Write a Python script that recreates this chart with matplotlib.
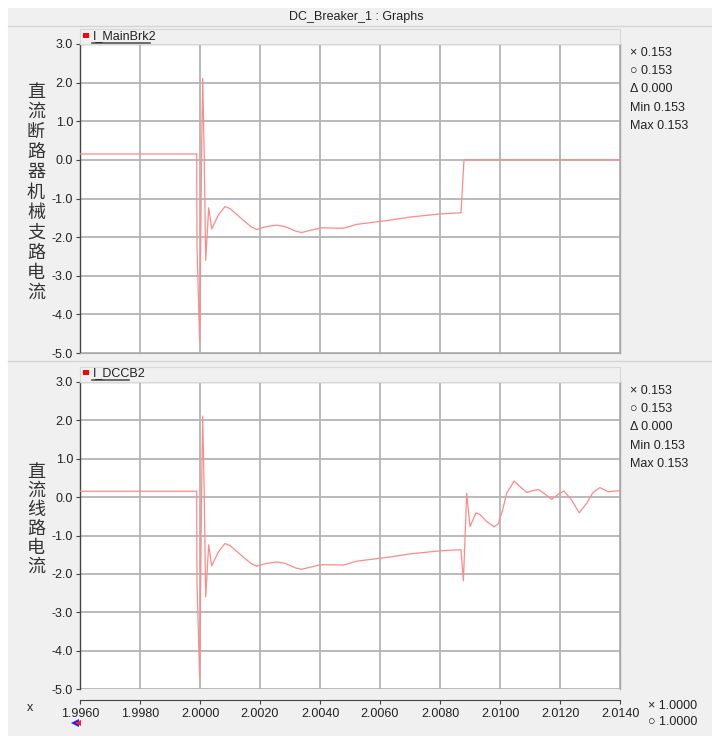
import matplotlib
matplotlib.use("Agg")
import matplotlib.pyplot as plt
from matplotlib.lines import Line2D
from matplotlib.patches import Rectangle
from matplotlib import font_manager

# ---------------- data ----------------
t_common = [1.99600, 1.99989, 1.99990, 1.99999, 2.00006, 2.00009, 2.00014, 2.00019,
            2.00029, 2.00039, 2.00061, 2.00083, 2.00100, 2.00125, 2.00150, 2.00170,
            2.00189, 2.00220, 2.00256, 2.00280, 2.00300, 2.00320, 2.00339, 2.00370,
            2.00406, 2.00478, 2.00522, 2.00633, 2.00700, 2.00800, 2.00870]
i_common = [0.153, 0.153, -2.25, -4.72, 0.60, 2.11, 0.08, -2.60,
            -1.24, -1.79, -1.43, -1.21, -1.26, -1.43, -1.60, -1.73,
            -1.80, -1.73, -1.69, -1.72, -1.78, -1.85, -1.88, -1.82,
            -1.76, -1.77, -1.67, -1.56, -1.48, -1.40, -1.37]

t_main_tail = [2.00880, 2.01400]
i_main_tail = [0.0, 0.0]

t_dccb_tail = [2.00878, 2.00889, 2.00900, 2.00920, 2.00933, 2.00956, 2.00980, 2.00994,
               2.01010, 2.01022, 2.01047, 2.01067, 2.01089, 2.01110, 2.01128, 2.01150,
               2.01172, 2.01195, 2.01213, 2.01239, 2.01264, 2.01289, 2.01310, 2.01333,
               2.01361, 2.01400]
i_dccb_tail = [-2.18, 0.10, -0.77, -0.41, -0.45, -0.64, -0.77, -0.70,
               -0.30, 0.10, 0.42, 0.27, 0.12, 0.17, 0.20, 0.08,
               -0.06, 0.08, 0.16, -0.08, -0.41, -0.16, 0.12, 0.25,
               0.14, 0.17]

x_ticks = [1.996, 1.998, 2.000, 2.002, 2.004, 2.006, 2.008, 2.010, 2.012, 2.014]
y_ticks = [3.0, 2.0, 1.0, 0.0, -1.0, -2.0, -3.0, -4.0, -5.0]

title = "DC_Breaker_1 : Graphs"
series_names = ["I_MainBrk2", "I_DCCB2"]
ylabels = ["直流断路器机械支路电流", "直流线路电流"]
readout = ["× 0.153", "○ 0.153", "Δ 0.000", "Min 0.153", "Max 0.153"]
x_readout = ["× 1.0000", "○ 1.0000"]

# ---------------- style ----------------
avail = {f.name for f in font_manager.fontManager.ttflist}
base = "Liberation Sans Narrow" if "Liberation Sans Narrow" in avail else "Liberation Sans"
FAM = [base, "DejaVu Sans"]
plt.rcParams["font.family"] = FAM

W, H = 712, 736
BG = "#F0F0F0"
GRID = "#B4B4B4"
LINE = "#FF8A8A"
TXT = "#222222"

fig = plt.figure(figsize=(W / 100, H / 100), dpi=100, facecolor="white")

def fx(px):
    return px / W

def fy(py):
    return 1 - py / H

# panel background
fig.add_artist(Rectangle((fx(8), 0), fx(712) - fx(8), fy(8), transform=fig.transFigure,
                         facecolor=BG, edgecolor="none", zorder=0))
# title band
fig.text(fx(356), fy(17), title, ha="center", va="center", fontsize=9, color=TXT)
fig.add_artist(Line2D([fx(8), fx(712)], [fy(26), fy(26)], transform=fig.transFigure,
                      color="#D4D4D4", lw=1))
# separator between panels
fig.add_artist(Line2D([fx(8), fx(712)], [fy(361), fy(361)], transform=fig.transFigure,
                      color="#D4D4D4", lw=1))

panels = [
    dict(top=44, bottom=353, leg_y=36, lab_y0=92, lab_pitch=20.1,
         t=t_common + t_main_tail, i=i_common + i_main_tail),
    dict(top=382, bottom=689, leg_y=373, lab_y0=471.7, lab_pitch=19.0,
         t=t_common + t_dccb_tail, i=i_common + i_dccb_tail),
]

axes = []
for k, p in enumerate(panels):
    ax = fig.add_axes([fx(80), fy(p["bottom"]), (620 - 80) / W, (p["bottom"] - p["top"]) / H])
    ax.set_facecolor("white")
    ax.plot(p["t"], p["i"], color=LINE, lw=0.9, zorder=3)
    ax.set_xlim(1.996, 2.014)
    ax.set_ylim(-5.0, 3.0)
    ax.set_xticks(x_ticks)
    ax.set_yticks(y_ticks)
    ax.set_yticklabels([f"{v:.1f}" for v in y_ticks])
    ax.grid(True, color=GRID, lw=1.3, zorder=1)
    ax.set_axisbelow(True)
    ax.tick_params(axis="y", direction="out", length=3, width=0.8, color="#444444",
                   labelsize=9, labelcolor=TXT, pad=2)
    for s in ["top", "right"]:
        ax.spines[s].set_color("#A8A8A8")
        ax.spines[s].set_linewidth(1.0)
    ax.spines["left"].set_color("#444444")
    ax.spines["left"].set_linewidth(1.0)
    if k == 0:
        ax.spines["bottom"].set_color("#A8A8A8")
        ax.tick_params(axis="x", length=0, labelbottom=False)
    else:
        ax.spines["bottom"].set_position(("outward", 8))
        ax.spines["bottom"].set_color("#444444")
        ax.tick_params(axis="x", direction="out", length=3, width=0.8, color="#444444",
                       labelsize=9, labelcolor=TXT, pad=3)
        ax.set_xticklabels([f"{v:.4f}" for v in x_ticks])
    axes.append(ax)

    # legend row
    fig.add_artist(Rectangle((fx(80), fy(p["top"])), (620 - 80) / W, 15 / H,
                             transform=fig.transFigure, facecolor=BG,
                             edgecolor="#D8D8D8", lw=0.8, zorder=1))
    fig.add_artist(Rectangle((fx(83), fy(p["leg_y"] + 2)), 6 / W, 5 / H,
                             transform=fig.transFigure, facecolor="#FF0000",
                             edgecolor="none", zorder=2))
    fig.text(fx(93), fy(p["leg_y"]), series_names[k], ha="left", va="center",
             fontsize=9, color=TXT)
    fig.add_artist(Line2D([fx(92), fx(92 + 7.0 * len(series_names[k]) - 12)],
                          [fy(p["leg_y"] + 6.5)] * 2, transform=fig.transFigure,
                          color="#555555", lw=1.2))

    # Chinese vertical label
    for j, ch in enumerate(ylabels[k]):
        fig.text(fx(36), fy(p["lab_y0"] + j * p["lab_pitch"]), ch, ha="center", va="center",
                 fontsize=13, color="#333333", family=["Noto Sans CJK SC", "DejaVu Sans"])

    # readout on the right
    for j, s in enumerate(readout):
        fig.text(fx(630), fy(p["top"] + 9 + j * 18.2), s, ha="left", va="center",
                 fontsize=9, color=TXT)

# x-axis side texts
fig.text(fx(30), fy(708), "x", ha="center", va="center", fontsize=9, color=TXT)
for j, s in enumerate(x_readout):
    fig.text(fx(648), fy(706 + j * 16), s, ha="left", va="center", fontsize=9, color=TXT)
fig.add_artist(Line2D([fx(75)], [fy(723)], transform=fig.transFigure, marker="<",
                      markersize=6, color="#2020FF", markeredgewidth=0))
fig.add_artist(Line2D([fx(78)], [fy(723)], transform=fig.transFigure, marker="<",
                      markersize=5, color="#FF2020", markeredgewidth=0))

fig.savefig("out.png", dpi=100, facecolor=fig.get_facecolor())
